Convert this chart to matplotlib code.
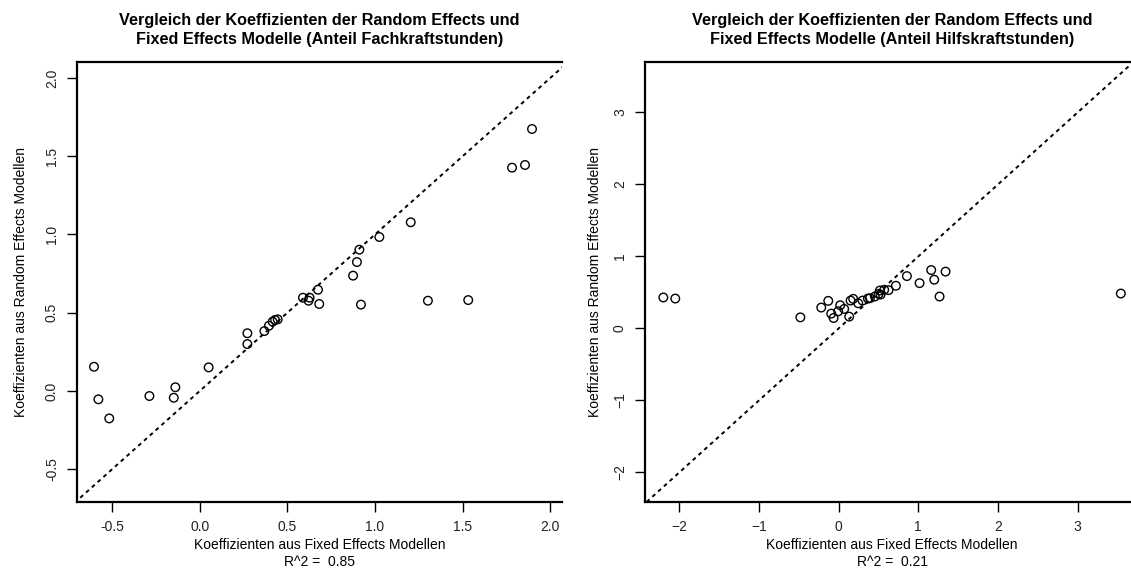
import numpy as np
import matplotlib.pyplot as plt

plt.rcParams['font.family'] = ['Liberation Sans', 'DejaVu Sans']

# Anteil Fachkraftstunden: fixed effects (x) vs random effects (y)
fach_fe = [-0.603, -0.578, -0.516, -0.287, -0.139, -0.148, 0.051, 0.272, 0.272, 0.369,
           0.395, 0.416, 0.430, 0.445, 0.589, 0.621, 0.627, 0.675, 0.682, 0.875,
           0.897, 0.911, 0.920, 1.025, 1.204, 1.302, 1.532, 1.782, 1.856, 1.896]
fach_re = [0.155, -0.053, -0.175, -0.032, 0.024, -0.043, 0.151, 0.369, 0.300, 0.383,
           0.417, 0.443, 0.454, 0.458, 0.596, 0.577, 0.596, 0.647, 0.556, 0.737,
           0.824, 0.903, 0.552, 0.984, 1.078, 0.577, 0.581, 1.427, 1.444, 1.674]

# Anteil Hilfskraftstunden
hilf_fe = [-2.20, -2.05, -0.48, -0.218, -0.13, -0.093, -0.063, -0.005, 0.02, 0.07,
           0.133, 0.15, 0.183, 0.246, 0.30, 0.368, 0.393, 0.455, 0.502, 0.518,
           0.527, 0.572, 0.627, 0.719, 0.857, 1.016, 1.162, 1.20, 1.267, 1.342, 3.542]
hilf_re = [0.43, 0.415, 0.154, 0.29, 0.383, 0.206, 0.145, 0.238, 0.322, 0.271,
           0.164, 0.387, 0.411, 0.35, 0.387, 0.415, 0.42, 0.443, 0.48, 0.527,
           0.471, 0.537, 0.532, 0.593, 0.727, 0.629, 0.811, 0.677, 0.443, 0.789, 0.485]

r2_fach = 0.85
r2_hilf = 0.21

W, H = 1131, 574
fig = plt.figure(figsize=(W / 100, H / 100), dpi=100)


def panel(rect, x, y, xlim, ylim, xticks, yticks, xtl, ytl, title, r2, hide_right, ylpad):
    ax = fig.add_axes([rect[0] / W, 1 - rect[3] / H, (rect[2] - rect[0]) / W, (rect[3] - rect[1]) / H])
    ax.scatter(x, y, s=38, facecolors='none', edgecolors='black', linewidths=1.0, zorder=3)
    lo = min(xlim[0], ylim[0]) - 1
    hi = max(xlim[1], ylim[1]) + 1
    ax.plot([lo, hi], [lo, hi], color='black', linestyle=(0, (2, 2)), linewidth=1.4)
    ax.set_xlim(xlim)
    ax.set_ylim(ylim)
    ax.set_xticks(xticks)
    ax.set_xticklabels(xtl, fontsize=10, color='#222222')
    ax.set_yticks(yticks)
    ax.set_yticklabels(ytl, fontsize=10, color='#222222', rotation=90, va='center')
    ax.tick_params(length=7, width=1.0, pad=6)
    for s in ax.spines.values():
        s.set_linewidth(1.6)
    if hide_right:
        ax.spines['right'].set_visible(False)
    ax.set_title(title, fontsize=11.7, fontweight='bold', pad=13, linespacing=1.35)
    ax.set_xlabel('Koeffizienten aus Fixed Effects Modellen\nR^2 =  %.2f' % r2, fontsize=10,
                  labelpad=3, linespacing=1.25)
    ax.set_ylabel('Koeffizienten aus Random Effects Modellen', fontsize=10, labelpad=ylpad)
    return ax


panel((77, 62, 562, 502), fach_fe, fach_re, (-0.70, 2.067), (-0.709, 2.102),
      [-0.5, 0, 0.5, 1.0, 1.5, 2.0], [-0.5, 0, 0.5, 1.0, 1.5, 2.0],
      ['-0.5', '0.0', '0.5', '1.0', '1.5', '2.0'], ['-0.5', '0.0', '0.5', '1.0', '1.5', '2.0'],
      'Vergleich der Koeffizienten der Random Effects und\nFixed Effects Modelle (Anteil Fachkraftstunden)',
      r2_fach, True, 12)

panel((645, 62, 1139, 502), hilf_fe, hilf_re, (-2.43, 3.77), (-2.41, 3.70),
      [-2, -1, 0, 1, 2, 3], [-2, -1, 0, 1, 2, 3],
      ['\u22122', '\u22121', '0', '1', '2', '3'], ['\u22122', '\u22121', '0', '1', '2', '3'],
      'Vergleich der Koeffizienten der Random Effects und\nFixed Effects Modelle (Anteil Hilfskraftstunden)',
      r2_hilf, False, 8)

fig.savefig('out.png', dpi=100)
